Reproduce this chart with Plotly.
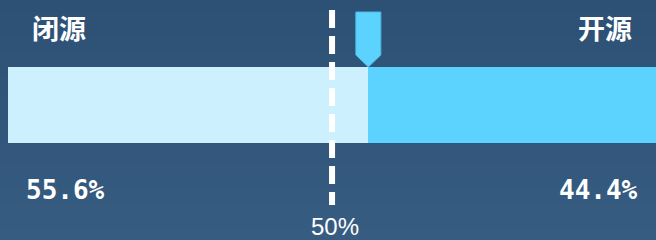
import plotly.graph_objects as go

categories = ["闭源", "开源"]
values = [55.6, 44.4]
value_labels = ["55.6%", "44.4%"]
threshold = 50
threshold_label = "50%"

W, H = 656, 240
x_min, x_max = -1.25, 100.0
px_per_unit = W / (x_max - x_min)

bar_colors = ["#cdf0fe", "#5bd3fe"]

fig = go.Figure()

# background vertical gradient as thin bands (below traces)
top_rgb = (0x2c, 0x51, 0x74)
bot_rgb = (0x37, 0x5c, 0x81)
n_bands = 40
for i in range(n_bands):
    t = i / (n_bands - 1)
    col = "rgb(%d,%d,%d)" % tuple(round(a + (b - a) * t) for a, b in zip(top_rgb, bot_rgb))
    fig.add_shape(type="rect", xref="paper", yref="paper", layer="below",
                  x0=0, x1=1, y0=1 - i / n_bands, y1=1 - (i + 1) / n_bands - 0.002,
                  fillcolor=col, line=dict(width=0))

base = 0
for cat, v, c in zip(categories, values, bar_colors):
    fig.add_trace(go.Bar(
        x=[v], base=[base], y=[105], width=[76], orientation="h",
        marker=dict(color=c, line=dict(width=0)), showlegend=False, name=cat,
    ))
    base += v

# threshold dashed line
fig.add_shape(type="line", x0=threshold, x1=threshold, y0=10, y1=205, xref="x",
              x0shift=0, line=dict(color="white", width=6, dash="18px,8px"))

# pointer marker at split
mx = values[0]
hw = 12.5 / px_per_unit
path = (f"M {mx-hw},12 L {mx+hw},12 L {mx+hw},55 L {mx},67 L {mx-hw},55 Z")
fig.add_shape(type="path", path=path, fillcolor="#5bd3fe",
              line=dict(color="#4ab8e6", width=1))

cjk = "Noto Sans CJK SC"
mono = "DejaVu Sans Mono"
fig.add_annotation(x=x_min, xref="x", xanchor="left", xshift=30, y=27, text=categories[0],
                   showarrow=False, font=dict(family=cjk, size=27, color="white", weight="bold"))
fig.add_annotation(x=x_max, xref="x", xanchor="right", xshift=-22, y=27, text=categories[1],
                   showarrow=False, font=dict(family=cjk, size=27, color="white", weight="bold"))
fig.add_annotation(x=x_min, xanchor="left", xshift=24, y=190, text=value_labels[0],
                   showarrow=False, font=dict(family=mono, size=26, color="white", weight="bold"))
fig.add_annotation(x=x_max, xanchor="right", xshift=-16, y=190, text=value_labels[1],
                   showarrow=False, font=dict(family=mono, size=26, color="white", weight="bold"))
fig.add_annotation(x=threshold, y=226, text=threshold_label, xshift=3,
                   showarrow=False, font=dict(family="Liberation Sans", size=24, color="white"))

fig.update_layout(
    width=W, height=H, margin=dict(l=0, r=0, t=0, b=0),
    paper_bgcolor="#30567a", plot_bgcolor="rgba(0,0,0,0)",
    barmode="overlay", bargap=0,
    xaxis=dict(range=[x_min, x_max], visible=False, fixedrange=True),
    yaxis=dict(range=[H, 0], visible=False, fixedrange=True),
)

fig.write_html("out.html", config={"displayModeBar": False},
               post_script="document.body.style.margin='0';document.body.style.overflow='hidden';")
